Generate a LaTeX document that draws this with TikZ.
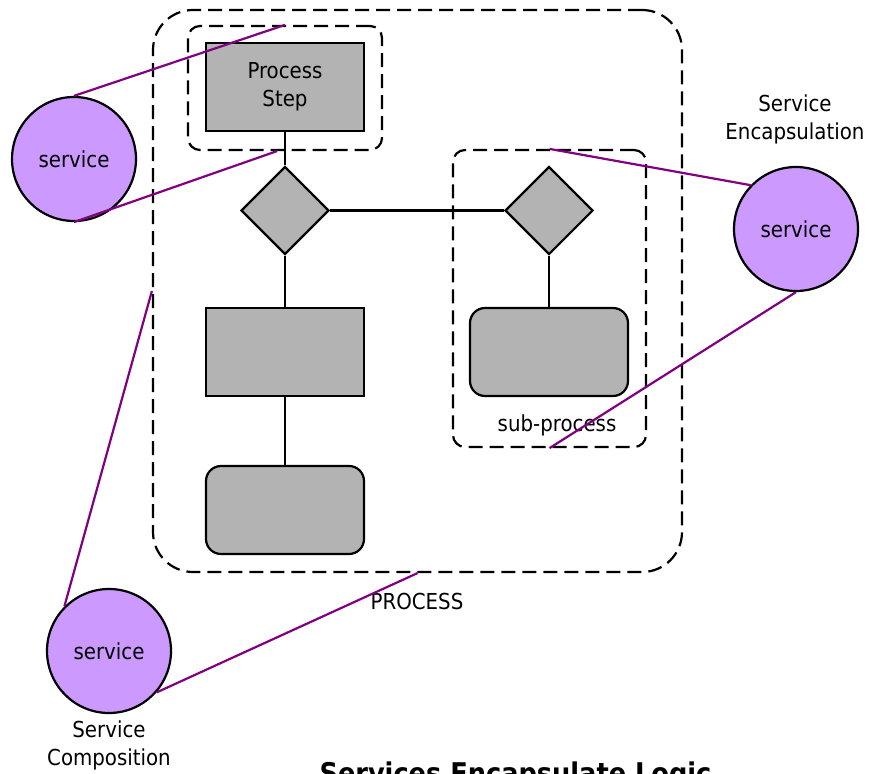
\documentclass[tikz,border=0pt]{standalone}
\usepackage{fontspec}
\setmainfont{DejaVu Sans Condensed}
\usepackage{xcolor}
\usetikzlibrary{shapes.geometric}
\definecolor{boxgray}{HTML}{B3B3B3}
\definecolor{svcfill}{HTML}{CC99FF}
\definecolor{linkpurple}{HTML}{800080}

\begin{document}
\begin{tikzpicture}[x=1pt, y=-1pt, every node/.style={font=\fontsize{22}{28}\selectfont},
  box/.style={draw, line width=2.2pt, fill=boxgray, minimum width=158pt, minimum height=88pt, inner sep=0pt},
  rbox/.style={box, rounded corners=15pt},
  dec/.style={draw, line width=2.2pt, diamond, fill=boxgray, minimum width=88pt, minimum height=88pt, inner sep=0pt},
  svc/.style={draw, line width=2.2pt, circle, fill=svcfill, minimum size=124pt, inner sep=0pt},
  grp/.style={draw, line width=2.2pt, dash pattern=on 14pt off 7pt, inner sep=0pt},
  wire/.style={line width=2.2pt},
  link/.style={line width=2.2pt, linkpurple}]
\path[use as bounding box, clip] (0,0) rectangle (869,773);
% groups
\node[grp, rounded corners=40pt, minimum width=529pt, minimum height=562pt] (proc) at (417.5,291) {};
\node[grp, rounded corners=12pt, minimum width=194pt, minimum height=124pt] (stepgrp) at (285,88) {};
\node[grp, rounded corners=12pt, minimum width=193pt, minimum height=297pt] (subgrp) at (549.5,298.5) {};
% process
\node[box, align=center, text depth=6pt] (step) at (285,87) {Process\\Step};
\node[dec] (d1) at (285,210.5) {};
\node[dec] (d2) at (549,210.5) {};
\node[box] (b1) at (285,352) {};
\node[rbox] (b2) at (285,510) {};
\node[rbox] (b3) at (549,352) {};
\draw[wire] (step) -- (d1);
\draw[wire] (d1) -- (d2);
\draw[wire] (d1) -- (b1);
\draw[wire] (b1) -- (b2);
\draw[wire] (d2) -- (b3);
\node (sublbl) at (557,425) {sub-process};
\node (proclbl) at (417,601) {PROCESS};
% services
\node[svc] (s1) at (74,159) {service};
\node[svc] (s2) at (796,229) {service};
\node[svc] (s3) at (109,651) {service};
\node[align=center] (enclbl) at (795,119) {Service\\Encapsulation};
\node[align=center] (complbl) at (109,745) {Service\\Composition};
\draw[link] (s1.north) -- (stepgrp.north);
\draw[link] (s1.south) -- ([xshift=-8pt]stepgrp.south);
\draw[link] (s2.136) -- (subgrp.north);
\draw[link] (s2.south) -- (subgrp.south);
\draw[link] (s3.135) -- (proc.west);
\draw[link] (s3.-41) -- (proc.south);
% title
\node[anchor=base west, font=\fontsize{28.5}{32}\bfseries\selectfont] (title) at (316,783) {Services Encapsulate Logic};
\end{tikzpicture}
\end{document}
